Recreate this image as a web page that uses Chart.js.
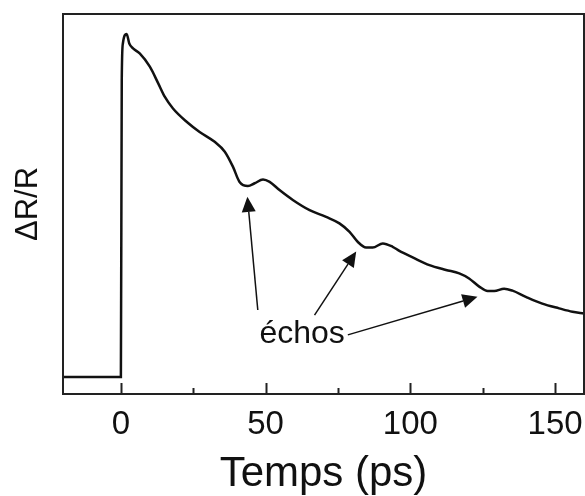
<!DOCTYPE html>
<html>
<head>
<meta charset="utf-8">
<script src="https://cdn.jsdelivr.net/npm/chart.js@4.4.0/dist/chart.umd.min.js"></script>
<style>
  html, body { margin: 0; padding: 0; background: #fff; }
  #wrap { width: 585px; height: 496px; }
</style>
</head>
<body>
<div id="wrap"><canvas id="chart"></canvas></div>
<script>
// Temps (ps) et signal ΔR/R (unités arbitraires, ligne de base = 0)
const temps = [-20, -0.3, 0, 0.3, 0.7, 2.0, 2.9, 4.2, 6.5, 10.0, 12.9, 15.2, 18.0, 22.7, 27.2, 32.4,
  35.9, 38.7, 41.0, 43.9, 46.2, 49.1, 51.4, 54.8, 59.4, 65.2, 70.9, 75.5, 79.0, 81.8, 84.7, 87.0,
  90.5, 93.9, 96.2, 100.8, 106.6, 112.3, 116.9, 120.3, 123.8, 126.7, 129.0, 132.4, 135.3, 139.9,
  145.6, 151.4, 156.0, 160];
const signal = [0, 0, 0, 0.874, 0.982, 1.009, 0.981, 0.967, 0.952, 0.913, 0.864, 0.824, 0.790, 0.751, 0.721, 0.692,
  0.663, 0.619, 0.574, 0.562, 0.570, 0.581, 0.574, 0.550, 0.521, 0.491, 0.471, 0.452, 0.427, 0.398, 0.381, 0.381,
  0.393, 0.383, 0.371, 0.352, 0.329, 0.315, 0.305, 0.290, 0.266, 0.253, 0.253, 0.260, 0.254, 0.236,
  0.216, 0.202, 0.192, 0.187];
const tickValues = [0, 25, 50, 75, 100, 125, 150];

// flèches "échos" : [queue x, queue y, pointe x, pointe y] en coordonnées des données
const echoArrows = [
  [47.3, 0.197, 43.7, 0.530],
  [66.9, 0.182, 81.3, 0.369],
  [78.4, 0.124, 123.2, 0.236]
];
const echoLabel = { text: "échos", x: 62.6, y: 0.099 };

const points = temps.map((t, i) => ({ x: t, y: signal[i] }));

const cadre = {
  id: "cadre",
  afterDraw(chart) {
    const ctx = chart.ctx;
    const a = chart.chartArea;
    const sx = chart.scales.x, sy = chart.scales.y;
    ctx.save();
    ctx.strokeStyle = "#222";
    ctx.lineWidth = 2;
    ctx.strokeRect(a.left, a.top, a.right - a.left, a.bottom - a.top);
    // ticks vers l'intérieur
    sx.ticks.forEach(t => {
      const px = Math.round(sx.getPixelForValue(t.value)) + 0.5;
      const len = t.value % 50 === 0 ? 11 : 6;
      ctx.beginPath();
      ctx.moveTo(px, a.bottom);
      ctx.lineTo(px, a.bottom - len);
      ctx.stroke();
    });
    // flèches
    ctx.fillStyle = "#111";
    ctx.strokeStyle = "#111";
    ctx.lineWidth = 1.5;
    echoArrows.forEach(([x0, y0, x1, y1]) => {
      const ax = sx.getPixelForValue(x0), ay = sy.getPixelForValue(y0);
      const bx = sx.getPixelForValue(x1), by = sy.getPixelForValue(y1);
      const ang = Math.atan2(by - ay, bx - ax);
      const head = 15, half = 7;
      const hx = bx - head * Math.cos(ang), hy = by - head * Math.sin(ang);
      ctx.beginPath();
      ctx.moveTo(ax, ay);
      ctx.lineTo(hx, hy);
      ctx.stroke();
      ctx.beginPath();
      ctx.moveTo(bx, by);
      ctx.lineTo(hx + half * Math.sin(ang), hy - half * Math.cos(ang));
      ctx.lineTo(hx - half * Math.sin(ang), hy + half * Math.cos(ang));
      ctx.closePath();
      ctx.fill();
    });
    ctx.font = "32px 'Liberation Sans', Arial, sans-serif";
    ctx.textAlign = "center";
    ctx.textBaseline = "alphabetic";
    ctx.fillText(echoLabel.text, sx.getPixelForValue(echoLabel.x), sy.getPixelForValue(echoLabel.y));
    ctx.restore();
  }
};

new Chart(document.getElementById("chart"), {
  type: "line",
  data: {
    datasets: [{
      data: points,
      borderColor: "#111",
      borderWidth: 2.5,
      pointRadius: 0,
      cubicInterpolationMode: "monotone",
      fill: false
    }]
  },
  options: {
    responsive: true,
    maintainAspectRatio: false,
    animation: false,
    layout: { padding: { top: 14, right: 1, left: 0, bottom: 0 } },
    plugins: { legend: { display: false }, tooltip: { enabled: false } },
    scales: {
      x: {
        type: "linear",
        min: -20,
        max: 160,
        afterFit: s => { s.height = 102; s.paddingLeft = 0; s.paddingRight = 0; },
        afterBuildTicks: s => { s.ticks = tickValues.map(v => ({ value: v })); },
        grid: { display: false },
        border: { display: false },
        ticks: {
          padding: 3,
          color: "#111",
          font: { family: "'Liberation Sans', Arial, sans-serif", size: 33 },
          maxRotation: 0,
          callback: v => (v % 50 === 0 ? v : "")
        },
        title: {
          display: true,
          text: "Temps (ps)",
          color: "#111",
          padding: { top: 0, bottom: 1 },
          font: { family: "'Liberation Sans', Arial, sans-serif", size: 42, lineHeight: 1 }
        }
      },
      y: {
        min: -0.05,
        max: 1.068,
        afterFit: s => { s.width = 63; },
        grid: { display: false },
        border: { display: false },
        ticks: { display: false },
        title: {
          display: true,
          text: "ΔR/R",
          color: "#111",
          padding: { top: 10, bottom: 0 },
          font: { family: "'Liberation Sans', Arial, sans-serif", size: 31 }
        }
      }
    }
  },
  plugins: [cadre]
});
</script>
</body>
</html>
